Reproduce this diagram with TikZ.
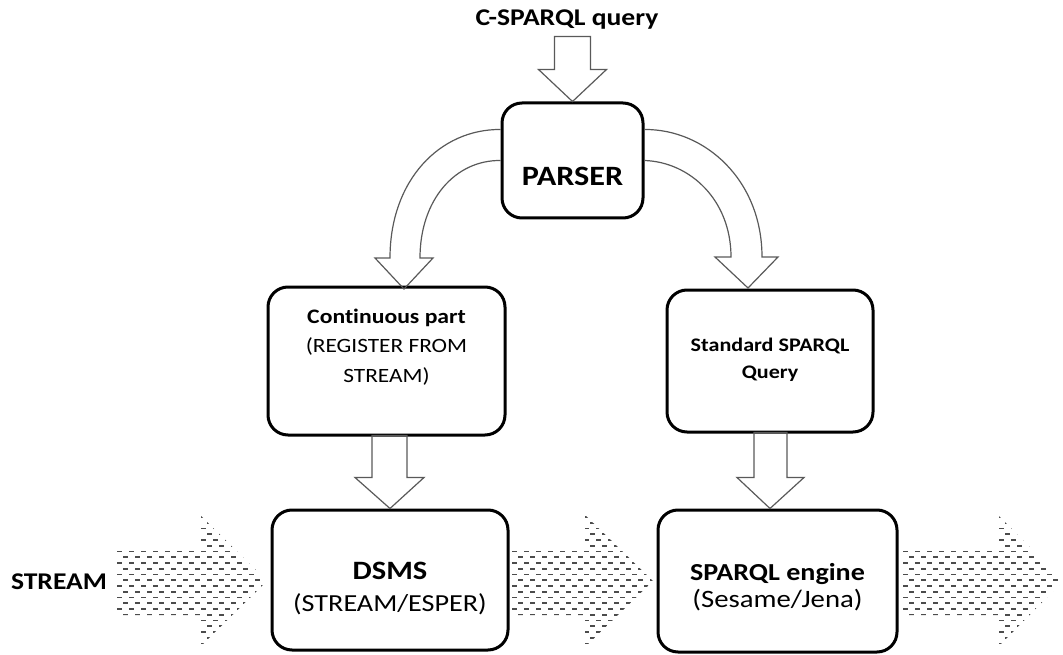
\documentclass[tikz,border=0pt]{standalone}
\usepackage{fontspec}
\setmainfont{Carlito}[FakeStretch=1.15,Ligatures=NoCommon]
\usepackage{tikz}
\usetikzlibrary{calc,positioning}

\begin{document}
\begin{tikzpicture}[x=1pt,y=-1pt,
    box/.style={draw,line width=3pt,rounded corners=20pt},
    lbl/.style={align=center,inner sep=0pt},
    hollow/.style={draw=black!65,line width=1.2pt,line join=miter},
    streamdash/.style={draw=black!70,line width=1.6pt,dash pattern=on 5pt off 7pt}]

    \useasboundingbox (0,0) rectangle (1063,655);

    \node[lbl,font=\fontsize{24}{28}\selectfont\bfseries] (query) at (567,20) {C-SPARQL query};
    \node[lbl,font=\fontsize{24}{28}\selectfont\bfseries] (stream) at (59,582) {STREAM};

    \node[box,minimum width=141,minimum height=115] (parser) at (572.5,160.5) {};
    \node[box,minimum width=237,minimum height=148] (cont) at (386.5,361) {};
    \node[box,minimum width=206,minimum height=142] (std) at (770,361) {};
    \node[box,minimum width=236,minimum height=140] (dsms) at (390,580) {};
    \node[box,minimum width=239,minimum height=142] (engine) at (777.5,581) {};

    \node[lbl,font=\fontsize{28}{32}\selectfont\bfseries] (parserlbl)
    at ([yshift=-15.5pt]parser.center) {PARSER};
    \node[lbl,font=\fontsize{20.3}{29.5}\selectfont] (contlbl)
    at ([yshift=14pt]cont.center)
    {\fontsize{20.6}{29.5}\selectfont\bfseries Continuous part\\(REGISTER FROM\\STREAM)};
    \node[lbl,font=\fontsize{19.2}{27}\selectfont\bfseries] (stdlbl)
    at ([yshift=1.5pt]std.center) {Standard SPARQL\\Query};
    \node[lbl,font=\fontsize{24.5}{32}\selectfont] (dsmslbl)
    at ([yshift=-9pt]dsms.center) {\fontsize{26.5}{32}\selectfont\bfseries DSMS\\(STREAM/ESPER)};
    \node[lbl,font=\fontsize{25}{27}\selectfont] (enginelbl)
    at ([yshift=-6pt]engine.center) {\fontsize{24.4}{27}\selectfont\bfseries SPARQL engine\\(Sesame/Jena)};

    % query into parser
    \draw[hollow] (parser.north) -- ++(-34,-32) -- ++(16,0) -- ++(0,-33)
    -- ++(36,0) -- ++(0,33) -- ++(16,0) -- cycle;

    % parser splits the query
    \draw[hollow] ($(parser.west)+(0,-31)$) .. controls (440,129) and (390,180) .. (390,258)
    -- (375,258) -- (404,289) -- (433,258) -- (420,258)
    .. controls (420,200) and (455,160) .. (parser.west);
    \draw[hollow] ($(parser.east)+(0,-31)$) .. controls (705,129) and (762,180) .. (762,257)
    -- (778,257) -- (748,288) -- (715,257) -- (731,257)
    .. controls (731,200) and (690,162) .. (parser.east);

    % down to the engines
    \draw[hollow] (dsms.north) -- ++(-35,-31) -- ++(17,0) -- ++(0,-42)
    -- ++(35,0) -- ++(0,42) -- ++(17,0) -- cycle;
    \draw[hollow] (std.south |- engine.north) -- ++(-33,-31) -- ++(17,0) -- ++(0,-45)
    -- ++(33,0) -- ++(0,45) -- ++(17,0) -- cycle;

    % stream arrows
    \foreach \s/\h/\t in {117/200/267, 512/585/653, 903/998/1063} {
      \begin{scope}
        \clip (\s,550) -- (\h,550) -- (\h,515) -- (\t,581) -- (\h,647)
        -- (\h,615) -- (\s,615) -- cycle;
        \foreach \i in {0,...,22}
        \draw[streamdash,dash phase={6*mod(\i,2)}] (\s-12,517+5.75*\i) -- (\t+2,517+5.75*\i);
      \end{scope}
    }

  \end{tikzpicture}
\end{document}
